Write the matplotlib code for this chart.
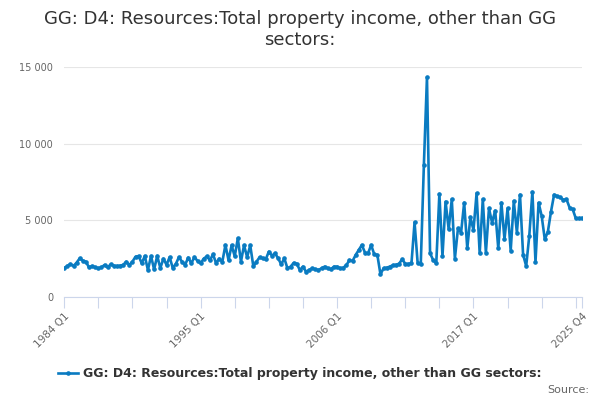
import matplotlib
matplotlib.use("Agg")
import matplotlib.pyplot as plt
from matplotlib.ticker import FuncFormatter

# quarterly values, 1984 Q1 .. 2025 Q4
start_year = 1984
end_year = 2025
values = [
    1870, 2020, 2150, 2020, 2240, 2520, 2370, 2300, 1930, 2020,
    1930, 1870, 1930, 2090, 1930, 2130, 2040, 2020, 2040, 2090,
    2300, 2090, 2300, 2630, 2670, 2200, 2670, 1760, 2670, 1800,
    2680, 1890, 2500, 2100, 2600, 1900, 2150, 2600, 2300, 2100,
    2570, 2200, 2600, 2350, 2200, 2500, 2650, 2400, 2780, 2200,
    2500, 2300, 3390, 2400, 3370, 2650, 3830, 2300, 3370, 2600,
    3370, 2000, 2300, 2590, 2520, 2460, 2960, 2700, 2850, 2520,
    2130, 2520, 1870, 1980, 2220, 2170, 1760, 1980, 1650, 1760,
    1870, 1800, 1760, 1870, 1980, 1870, 1800, 1980, 1980, 1870,
    1910, 2070, 2410, 2350, 2740, 3070, 3390, 2900, 2850, 3390,
    2780, 2740, 1480, 1870, 1910, 1980, 2070, 2100, 2170, 2460,
    2170, 2150, 2200, 4870, 2200, 2150, 8600, 14330, 2850, 2410,
    2200, 6720, 2670, 6220, 4420, 6370, 2500, 4480, 4200, 6150,
    3170, 5200, 4370, 6760, 2850, 6370, 2890, 5780, 4850, 5630,
    3170, 6150, 3760, 5780, 3020, 6260, 4200, 6670, 2760, 2020,
    4000, 6850, 2300, 6150, 5280, 3760, 4260, 5570, 6670, 6560,
    6500, 6330, 6370, 5830, 5720, 5130, 5130, 5150,
]
labels = [f"{y} Q{q}" for y in range(start_year, end_year + 1) for q in range(1, 5)]
title = "GG: D4: Resources:Total property income, other than GG\nsectors:"
series_name = "GG: D4: Resources:Total property income, other than GG sectors:"

blue = "#0a7bc1"
x = list(range(len(values)))

fig = plt.figure(figsize=(6, 4), dpi=100)
ax = fig.add_axes([0.107, 0.2575, 0.863, 0.575])
ax.plot(x, values, color=blue, lw=1.9, marker="o", ms=2.3, label=series_name)

ax.set_xlim(0, len(values) - 1)
ax.set_ylim(0, 15000)
ax.set_yticks([0, 5000, 10000, 15000])
ax.yaxis.set_major_formatter(FuncFormatter(lambda v, p: f"{int(v):,}".replace(",", " ")))
ax.grid(axis="y", color="#e6e6e6", lw=0.8)
ax.set_axisbelow(True)
for s in ["left", "right", "top"]:
    ax.spines[s].set_visible(False)
ax.spines["bottom"].set_color("#ccd6eb")
ax.tick_params(axis="y", length=0, labelsize=7, labelcolor="#666666", pad=8)

ticks = list(range(0, len(values) - 2, 11)) + [len(values) - 1]
shown = {0, 44, 88, 132, len(values) - 1}
ax.set_xticks(ticks)
ax.set_xticklabels([labels[t] if t in shown else "" for t in ticks],
                   rotation=45, ha="right", rotation_mode="anchor")
ax.tick_params(axis="x", length=8, color="#ccd6eb", labelsize=7.5,
               labelcolor="#666666", pad=2)

fig.suptitle(title, y=0.975, fontsize=13, color="#333333")
fig.legend(loc="center", bbox_to_anchor=(0.5, 0.065), frameon=False,
           prop={"weight": "bold", "size": 9}, labelcolor="#333333",
           handlelength=1.6, handletextpad=0.4)
fig.text(0.982, 0.018, "Source:", ha="right", fontsize=8, color="#666666")

fig.savefig("out.png", dpi=100)
